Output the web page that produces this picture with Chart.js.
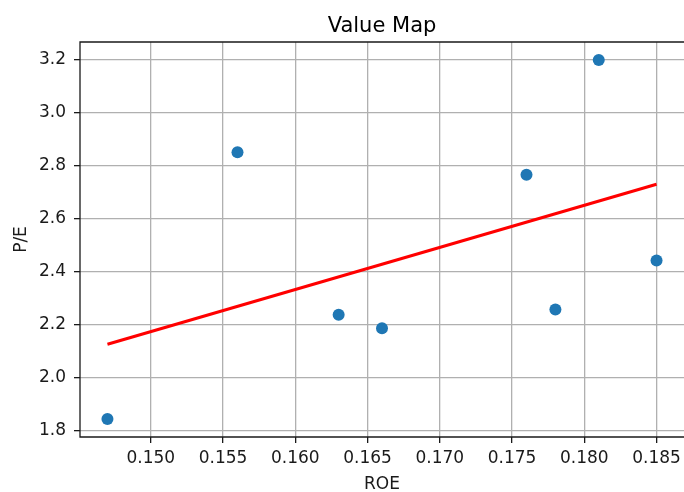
<!DOCTYPE html>
<html>
<head>
<meta charset="utf-8">
<script src="https://cdn.jsdelivr.net/npm/chart.js@4/dist/chart.umd.min.js"></script>
<style>
  html, body { margin: 0; padding: 0; background: #fff; overflow: hidden; }
  canvas { display: block; }
</style>
</head>
<body>
<canvas id="c" width="684" height="492"></canvas>
<script>
// ROE vs P/E observations
const roe = [0.147, 0.156, 0.163, 0.166, 0.176, 0.178, 0.181, 0.185];
const pe  = [1.842, 2.851, 2.236, 2.185, 2.766, 2.256, 3.200, 2.442];

// Fitted trend line, end points
const trendRoe = [0.147, 0.185];
const trendPe  = [2.125, 2.730];

// Axis ticks
const xTicks = [0.150, 0.155, 0.160, 0.165, 0.170, 0.175, 0.180, 0.185];
const yTicks = [1.8, 2.0, 2.2, 2.4, 2.6, 2.8, 3.0, 3.2];

const FONT = "'DejaVu Sans', sans-serif";
const TITLE = 'Value Map';

// Frame on the top, left and bottom of the plotting area (the right edge
// runs off the canvas), plus the title centred over the plot
const frame = {
  id: 'frame',
  afterDraw(chart) {
    const a = chart.chartArea, ctx = chart.ctx;
    ctx.save();
    ctx.strokeStyle = '#1a1a1a';
    ctx.lineWidth = 1.3;
    ctx.beginPath();
    ctx.moveTo(a.right + 2, a.top);
    ctx.lineTo(a.left, a.top);
    ctx.lineTo(a.left, a.bottom);
    ctx.lineTo(a.right + 2, a.bottom);
    ctx.stroke();
    ctx.fillStyle = '#000';
    ctx.font = "21px " + FONT;
    ctx.textAlign = 'center';
    ctx.textBaseline = 'middle';
    ctx.fillText(TITLE, (a.left + a.right) / 2, 26.5);
    ctx.restore();
  }
};

new Chart(document.getElementById('c'), {
  type: 'scatter',
  data: {
    datasets: [
      {
        label: 'P/E',
        data: roe.map((x, i) => ({ x, y: pe[i] })),
        backgroundColor: '#1f77b4',
        borderColor: '#1f77b4',
        pointRadius: 6,
        pointHoverRadius: 6,
        borderWidth: 0
      },
      {
        type: 'line',
        label: 'Trend',
        data: trendRoe.map((x, i) => ({ x, y: trendPe[i] })),
        borderColor: '#ff0000',
        borderWidth: 3,
        pointRadius: 0,
        fill: false,
        tension: 0
      }
    ]
  },
  options: {
    responsive: false,
    animation: false,
    layout: { autoPadding: false, padding: { left: 0, right: -2, top: 42, bottom: 0 } },
    plugins: {
      legend: { display: false },
      tooltip: { enabled: false },
      title: { display: false }
    },
    scales: {
      x: {
        type: 'linear',
        min: 0.1451,
        max: 0.1869,
        afterFit(s) { s.height = 55; s.paddingLeft = 0; s.paddingRight = -2; },
        afterBuildTicks(s) { s.ticks = xTicks.map(v => ({ value: v })); },
        grid: {
          color: '#b0b0b0', lineWidth: 1.3,
          tickColor: '#1a1a1a', tickWidth: 1.3, tickLength: 6,
          drawTicks: true
        },
        border: { display: false },
        ticks: {
          color: '#1a1a1a',
          font: { family: FONT, size: 17 },
          padding: 5,
          maxRotation: 0,
          autoSkip: false,
          callback: v => Number(v).toFixed(3)
        },
        title: {
          display: true, text: 'ROE', color: '#1a1a1a',
          font: { family: FONT, size: 17 },
          padding: { top: 0, bottom: -3 }
        }
      },
      y: {
        type: 'linear',
        min: 1.7741,
        max: 3.2679,
        afterFit(s) { s.width = 80; s.paddingTop = 0; s.paddingBottom = 0; },
        afterBuildTicks(s) { s.ticks = yTicks.map(v => ({ value: v })); },
        grid: {
          color: '#b0b0b0', lineWidth: 1.3,
          tickColor: '#1a1a1a', tickWidth: 1.3, tickLength: 6,
          drawTicks: true
        },
        border: { display: false },
        ticks: {
          color: '#1a1a1a',
          font: { family: FONT, size: 17 },
          padding: 8,
          autoSkip: false,
          callback: v => Number(v).toFixed(1)
        },
        title: {
          display: true, text: 'P/E', color: '#1a1a1a',
          font: { family: FONT, size: 17 },
          padding: { top: 11, bottom: 0 }
        }
      }
    }
  },
  plugins: [frame]
});
</script>
</body>
</html>
